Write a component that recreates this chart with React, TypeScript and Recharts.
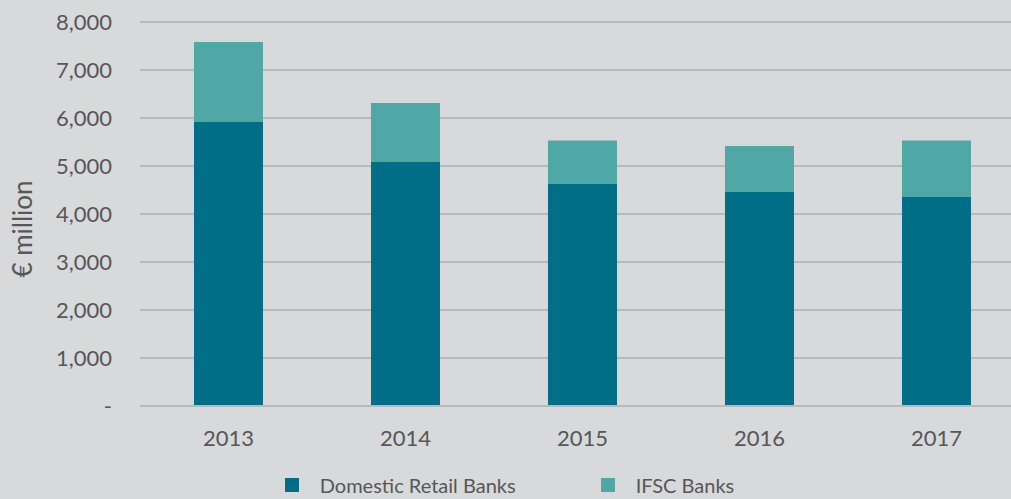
import { BarChart, Bar, XAxis, YAxis, CartesianGrid, Legend, Label } from 'recharts';

const years = ['2013', '2014', '2015', '2016', '2017'];
const domesticRetail = [5915, 5085, 4625, 4460, 4355];
const ifscTotal = [7585, 6310, 5530, 5415, 5530];
const ifscBanks = ifscTotal.map((t, i) => t - domesticRetail[i]);
const yTicks = [0, 1000, 2000, 3000, 4000, 5000, 6000, 7000, 8000];

const data = years.map((year, i) => ({
  year,
  domestic: domesticRetail[i],
  ifsc: ifscBanks[i],
}));

const DARK = '#006e87';
const LIGHT = '#4fa8a6';
const TEXT = '#555759';
const GRID = '#b8b9ba';
const FONT = 'Lato, "Open Sans", sans-serif';

const LegendBox = ({ payload }: any) => (
  <div style={{ height: 53, width: 1011, display: 'flex', justifyContent: 'center', alignItems: 'flex-end', paddingLeft: 8, boxSizing: 'border-box' }}>
    {(payload || []).map((p: any, i: number) => (
      <div key={p.value} style={{ display: 'flex', alignItems: 'center', marginLeft: i ? 85 : 0, paddingBottom: 2 }}>
        <span style={{ width: 14, height: 14, background: p.color, display: 'inline-block', marginRight: 21 }} />
        <span style={{ fontFamily: FONT, fontSize: 20, color: TEXT }}>{p.value}</span>
      </div>
    ))}
  </div>
);

export default function App() {
  return (
    <div style={{ position: 'absolute', top: 0, left: 0, width: 1011, height: 499, overflow: 'hidden', background: '#d8d9da' }}>
      <BarChart width={1034} height={499} data={data} margin={{ top: 22, right: 9, left: 40, bottom: 0 }} barCategoryGap="30.5%">
        <CartesianGrid vertical={false} stroke={GRID} strokeWidth={2} />
        <XAxis
          dataKey="year"
          height={40}
          tickLine={false}
          axisLine={{ stroke: GRID, strokeWidth: 2 }}
          tickMargin={18}
          tick={{ fontSize: 22, fill: TEXT, fontFamily: FONT }}
        />
        <YAxis
          width={100}
          domain={[0, 8000]}
          ticks={yTicks}
          axisLine={false}
          tickLine={false}
          tickMargin={22}
          tick={{ fontSize: 22, fill: TEXT, fontFamily: FONT }}
          tickFormatter={(v: number) => (v === 0 ? '-' : v.toLocaleString('en-US'))}
        >
          <Label
            content={() => (
              <text x={32} y={229} transform="rotate(-90, 32, 229)" textAnchor="middle" fontSize={26} fill={TEXT} fontFamily={FONT}>
                € million
              </text>
            )}
          />
        </YAxis>
        <Legend verticalAlign="bottom" wrapperStyle={{ left: 0, width: 1011 }} content={<LegendBox />} />
        <Bar dataKey="domestic" name="Domestic Retail Banks" stackId="a" fill={DARK} isAnimationActive={false} />
        <Bar dataKey="ifsc" name="IFSC Banks" stackId="a" fill={LIGHT} isAnimationActive={false} />
      </BarChart>
    </div>
  );
}
